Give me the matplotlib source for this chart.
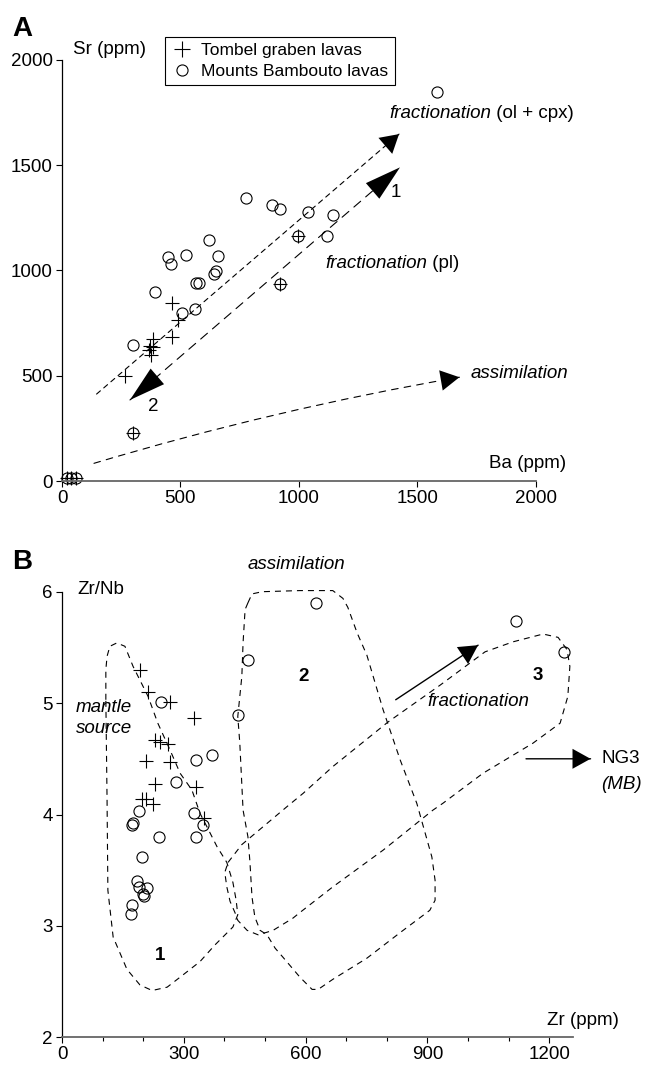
import matplotlib.pyplot as plt
from matplotlib.patches import FancyArrowPatch
from matplotlib.lines import Line2D

plt.rcParams['font.family'] = ['Liberation Sans', 'DejaVu Sans']
plt.rcParams['font.size'] = 13.5

# ---- panel A : Ba vs Sr (ppm) ----
ba_bambouto = [1585, 776, 886, 921, 1040, 1146, 1118, 998, 622, 449, 459, 524, 660,
               650, 643, 566, 579, 393, 562, 505, 298, 921, 301, 22, 40, 58]
sr_bambouto = [1850, 1343, 1311, 1290, 1279, 1264, 1165, 1164, 1145, 1066, 1031, 1074, 1069,
               999, 983, 942, 942, 896, 816, 800, 645, 935, 227, 12, 14, 12]
ba_tombel = [463, 491, 463, 386, 372, 386, 369, 375, 266, 998, 921, 301, 22, 40, 58]
sr_tombel = [847, 765, 686, 673, 639, 637, 620, 599, 499, 1164, 935, 227, 12, 14, 12]

# ---- panel B : Zr (ppm) vs Zr/Nb ----
zr_bambouto = [626, 459, 434, 243, 330, 370, 281, 190, 176, 172, 240, 326, 347, 330,
               198, 184, 190, 209, 199, 202, 173, 169, 1118, 1236]
zrnb_bambouto = [5.90, 5.39, 4.89, 5.01, 4.49, 4.53, 4.29, 4.03, 3.92, 3.91, 3.80, 4.01, 3.91, 3.80,
                 3.62, 3.40, 3.35, 3.34, 3.29, 3.27, 3.19, 3.11, 5.74, 5.46]
zr_tombel = [192, 213, 266, 326, 229, 241, 261, 206, 266, 228, 330, 196, 206, 223, 350]
zrnb_tombel = [5.30, 5.10, 5.01, 4.87, 4.67, 4.65, 4.63, 4.48, 4.47, 4.27, 4.25, 4.14, 4.14, 4.09, 3.97]

# outlined fields in panel B (Zr, Zr/Nb)
field1_zr = [108, 108, 111, 118, 135, 155, 175, 212, 236, 266, 291, 320, 340, 357, 382, 406,
             421, 429, 433, 421, 377, 340, 291, 259, 222, 192, 160, 126, 113, 111, 108]
field1_r = [5.03, 5.30, 5.42, 5.51, 5.54, 5.51, 5.33, 5.06, 4.82, 4.58, 4.37, 4.22, 4.01, 3.89, 3.71, 3.57,
            3.39, 3.23, 3.10, 2.99, 2.83, 2.68, 2.54, 2.45, 2.42, 2.47, 2.61, 2.90, 3.32, 4.13, 5.03]
field2_zr = [458, 468, 493, 586, 667, 692, 704, 727, 751, 791, 833, 874, 911, 919, 919, 906, 833,
             751, 667, 631, 616, 586, 544, 525, 505, 488, 475, 468, 463, 458, 446, 438, 433, 443,
             446, 451, 458]
field2_r = [5.90, 5.98, 6.00, 6.01, 6.01, 5.94, 5.86, 5.63, 5.43, 4.94, 4.49, 4.10, 3.62, 3.41, 3.23, 3.14, 2.94,
            2.71, 2.52, 2.43, 2.43, 2.54, 2.72, 2.80, 2.92, 2.96, 3.08, 3.26, 3.57, 3.80, 4.04, 4.64, 4.88, 5.24,
            5.54, 5.84, 5.90]
field3_zr = [409, 443, 554, 594, 667, 803, 931, 1042, 1111, 1185, 1222, 1244, 1251, 1246, 1227,
             1160, 1037, 938, 914, 791, 667, 586, 569, 520, 502, 483, 456, 433, 426, 414, 406,
             401, 409]
field3_r = [3.57, 3.73, 4.07, 4.19, 4.43, 4.83, 5.16, 5.46, 5.55, 5.62, 5.59, 5.48, 5.33, 5.06, 4.82,
            4.64, 4.37, 4.10, 4.04, 3.68, 3.35, 3.12, 3.07, 2.96, 2.94, 2.92, 2.96, 3.05, 3.12, 3.22, 3.35,
            3.48, 3.57]

W, H = 646, 1065
fig = plt.figure(figsize=(W / 100, H / 100), dpi=100)


def px_axes(x0, y0, x1, y1):
    return fig.add_axes([x0 / W, 1 - y1 / H, (x1 - x0) / W, (y1 - y0) / H])


def style_axes(ax):
    for s in ['top', 'right']:
        ax.spines[s].set_visible(False)
    ax.spines['left'].set_linewidth(0.9)
    ax.spines['bottom'].set_linewidth(1.3)
    ax.spines['bottom'].set_color('0.4')
    ax.tick_params(direction='out', length=4.5, width=0.8, pad=2, labelsize=13.5)


def arrow(ax, start, tip, style, hl, hw, lw=0.8, dash=None, rad=0.0):
    """Shaft (solid or dashed) plus solid filled head(s)."""
    conn = f'arc3,rad={rad}'
    ls = '-' if dash is None else (0, dash)
    shaft = FancyArrowPatch(start, tip, arrowstyle='-', connectionstyle=conn,
                            color='k', lw=lw, linestyle=ls,
                            shrinkA=0, shrinkB=0, clip_on=False)
    head = FancyArrowPatch(start, tip, arrowstyle=f'{style},head_length={hl},head_width={hw}',
                           connectionstyle=conn, mutation_scale=1, color='k', lw=0,
                           shrinkA=0, shrinkB=0, clip_on=False)
    ax.add_patch(shaft)
    ax.add_patch(head)


def scatter(ax, x1, y1, x2, y2):
    ax.plot(x2, y2, ls='none', marker='+', ms=10, mew=0.8, color='k', clip_on=False)
    ax.plot(x1, y1, ls='none', marker='o', ms=8, mew=0.8, mfc='none', mec='k', clip_on=False)


# ================= panel A =================
axA = px_axes(62, 60, 535.7, 481)
style_axes(axA)
axA.set_xlim(0, 2000)
axA.set_ylim(0, 2000)
axA.set_xticks([0, 500, 1000, 1500, 2000])
axA.set_yticks([0, 500, 1000, 1500, 2000])

scatter(axA, ba_bambouto, sr_bambouto, ba_tombel, sr_tombel)

# fractionation (ol + cpx)
arrow(axA, (146, 413), (1423, 1648), '-|>', 13, 7.6, dash=(4.5, 4))
# fractionation (pl), double headed 1 / 2
arrow(axA, (287, 385), (1427, 1490), '<|-|>', 26, 7.4, dash=(8, 6))
# assimilation
arrow(axA, (135, 84), (1678, 493), '-|>', 13.5, 7.4, dash=(6, 5.5), rad=-0.03)

axA.text(46, 2048, 'Sr (ppm)', va='center', ha='left')
axA.text(1803, 84, 'Ba (ppm)', va='center', ha='left')
t = axA.text(1381, 1725, 'fractionation', style='italic', va='baseline')
axA.annotate(' (ol + cpx)', xy=(1, 1725), xycoords=(t, 'data'), va='baseline')
t = axA.text(1111, 1010, 'fractionation', style='italic', va='baseline')
axA.annotate(' (pl)', xy=(1, 1010), xycoords=(t, 'data'), va='baseline')
axA.text(1409, 1371, '1', ha='center', va='center')
axA.text(386, 353, '2', ha='center', va='center')
axA.text(1726, 512, 'assimilation', style='italic', va='center', ha='left')

handles = [Line2D([], [], ls='none', marker='+', ms=11, mew=0.8, color='k'),
           Line2D([], [], ls='none', marker='o', ms=8, mew=0.8, mfc='none', mec='k')]
leg = fig.legend(handles, ['Tombel graben lavas', 'Mounts Bambouto lavas'],
                 loc='upper left', bbox_to_anchor=(165 / W, 1 - 37 / H),
                 frameon=True, fancybox=False, edgecolor='k', framealpha=1,
                 borderaxespad=0, handlelength=1.3, handletextpad=0.45,
                 labelspacing=0.3, borderpad=0.35, fontsize=12.5)
leg.get_frame().set_linewidth(0.8)

fig.text(22 / W, 1 - 29 / H, 'A', fontsize=20, fontweight='bold', ha='center', va='center')

# ================= panel B =================
axB = px_axes(62, 591.7, 572.7, 1037.3)
style_axes(axB)
axB.set_xlim(0, 1258)
axB.set_ylim(2, 6)
axB.set_xticks([0, 300, 600, 900, 1200])
axB.set_xticks(range(100, 1201, 100), minor=True)
axB.set_yticks([2, 3, 4, 5, 6])
axB.tick_params(axis='x', which='minor', direction='out', length=3, width=0.8)

for fx, fy in [(field1_zr, field1_r), (field2_zr, field2_r), (field3_zr, field3_r)]:
    axB.plot(fx, fy, color='k', lw=0.8, ls=(0, (5.4, 4.5)), clip_on=False)

scatter(axB, zr_bambouto, zrnb_bambouto, zr_tombel, zrnb_tombel)

arrow(axB, (822, 5.03), (1025, 5.52), '-|>', 13.5, 7.3, lw=1.0)
arrow(axB, (1143, 4.50), (1302, 4.50), '-|>', 13, 7.2, lw=1.0)

axB.text(39, 6.02, 'Zr/Nb', va='center', ha='left')
axB.text(1195, 2.15, 'Zr (ppm)', va='center', ha='left')
axB.text(458, 6.24, 'assimilation', style='italic', va='center', ha='left')
axB.text(34, 4.87, 'mantle\nsource', style='italic', va='center', ha='left', linespacing=1.3)
axB.text(594, 5.24, '2', fontweight='bold', ha='center', va='center')
axB.text(1172, 5.25, '3', fontweight='bold', ha='center', va='center')
axB.text(241, 2.73, '1', fontweight='bold', ha='center', va='center')
axB.text(901, 5.01, 'fractionation', style='italic', va='center', ha='left')
axB.text(1329, 4.50, 'NG3', va='center', ha='left')
axB.text(1329, 4.265, '(MB)', style='italic', va='center', ha='left')

fig.text(22 / W, 1 - 562 / H, 'B', fontsize=20, fontweight='bold', ha='center', va='center')

fig.savefig('out.png', dpi=100)
